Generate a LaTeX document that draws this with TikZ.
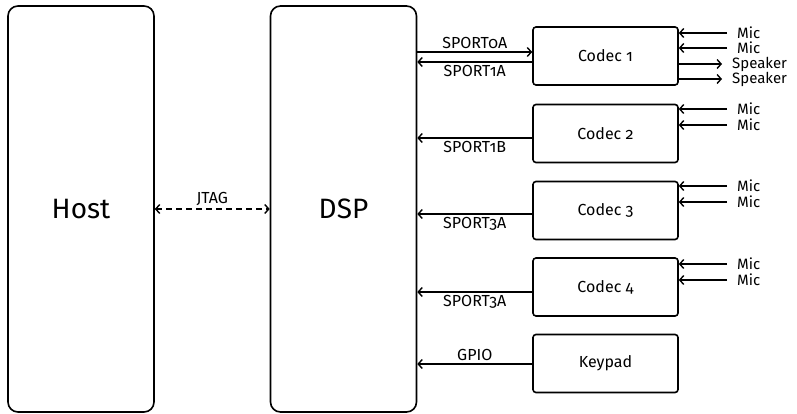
\documentclass[tikz,border=0pt]{standalone}
\usepackage{fontspec}
\setmainfont{Fira Sans}[Numbers=OldStyle]
\usetikzlibrary{arrows.meta}
\begin{document}
\begin{tikzpicture}[x=1pt,y=-1pt, font=\fontsize{16}{18}\selectfont,
  big/.style={draw, line width=1.6pt, rounded corners=10pt, minimum width=146pt, minimum height=406pt, font=\fontsize{28}{32}\selectfont},
  codec/.style={draw, line width=1.6pt, rounded corners=3pt, minimum width=145pt, minimum height=58pt},
  conn/.style={line width=1.4pt, -{Straight Barb[length=4pt,width=9pt]}},
  both/.style={line width=1.4pt, {Straight Barb[length=4pt,width=9pt]}-{Straight Barb[length=4pt,width=9pt]}},
  sig/.style={inner sep=2.5pt},
  ext/.style={anchor=west, inner xsep=10pt, inner ysep=0pt, font=\fontsize{15}{16}\selectfont}
]
\useasboundingbox (0,0) rectangle (797,414);
\node[big] (host) at (81,209) {Host};
\node[big] (dsp) at (343.5,209) {DSP};

\node[codec] (c1) at (605.5,56) {Codec 1};
\node[codec] (c2) at (605.5,133.5) {Codec 2};
\node[codec] (c3) at (605.5,210.5) {Codec 3};
\node[codec] (c4) at (605.5,287) {Codec 4};
\node[codec] (kp) at (605.5,363.5) {Keypad};

\draw[both, dashed, dash pattern=on 6pt off 4pt] (host.east) -- (dsp.west) node[midway, above, sig] {JTAG};

\draw[conn] (dsp.east |- 0,52) -- (c1.west |- 0,52) node[midway, above, sig] {SPORT0A};
\draw[conn] (c1.west |- 0,62) -- (dsp.east |- 0,62) node[midway, below, sig] {SPORT1A};
\draw[conn] (c2.west |- 0,138) -- (dsp.east |- 0,138) node[midway, below, sig] {SPORT1B};
\draw[conn] (c3.west |- 0,214) -- (dsp.east |- 0,214) node[midway, below, sig] {SPORT3A};
\draw[conn] (c4.west |- 0,292) -- (dsp.east |- 0,292) node[midway, below, sig] {SPORT3A};
\draw[conn] (kp.west |- 0,364) -- (dsp.east |- 0,364) node[midway, above, sig] {GPIO};

% codec 1 externals
\node[ext] (m11) at (727,33) {Mic};
\node[ext] (m12) at (727,48) {Mic};
\node[ext] (s11) at (722,64) {Speaker};
\node[ext] (s12) at (722,79) {Speaker};
\draw[conn] (m11.west) -- (c1.east |- m11.west);
\draw[conn] (m12.west) -- (c1.east |- m12.west);
\draw[conn] (c1.east |- s11.west) -- (s11.west);
\draw[conn] (c1.east |- s12.west) -- (s12.west);

\node[ext] (m21) at (727,109) {Mic};
\node[ext] (m22) at (727,125) {Mic};
\draw[conn] (m21.west) -- (c2.east |- m21.west);
\draw[conn] (m22.west) -- (c2.east |- m22.west);

\node[ext] (m31) at (727,186) {Mic};
\node[ext] (m32) at (727,202) {Mic};
\draw[conn] (m31.west) -- (c3.east |- m31.west);
\draw[conn] (m32.west) -- (c3.east |- m32.west);

\node[ext] (m41) at (727,264) {Mic};
\node[ext] (m42) at (727,280) {Mic};
\draw[conn] (m41.west) -- (c4.east |- m41.west);
\draw[conn] (m42.west) -- (c4.east |- m42.west);
\end{tikzpicture}
\end{document}
